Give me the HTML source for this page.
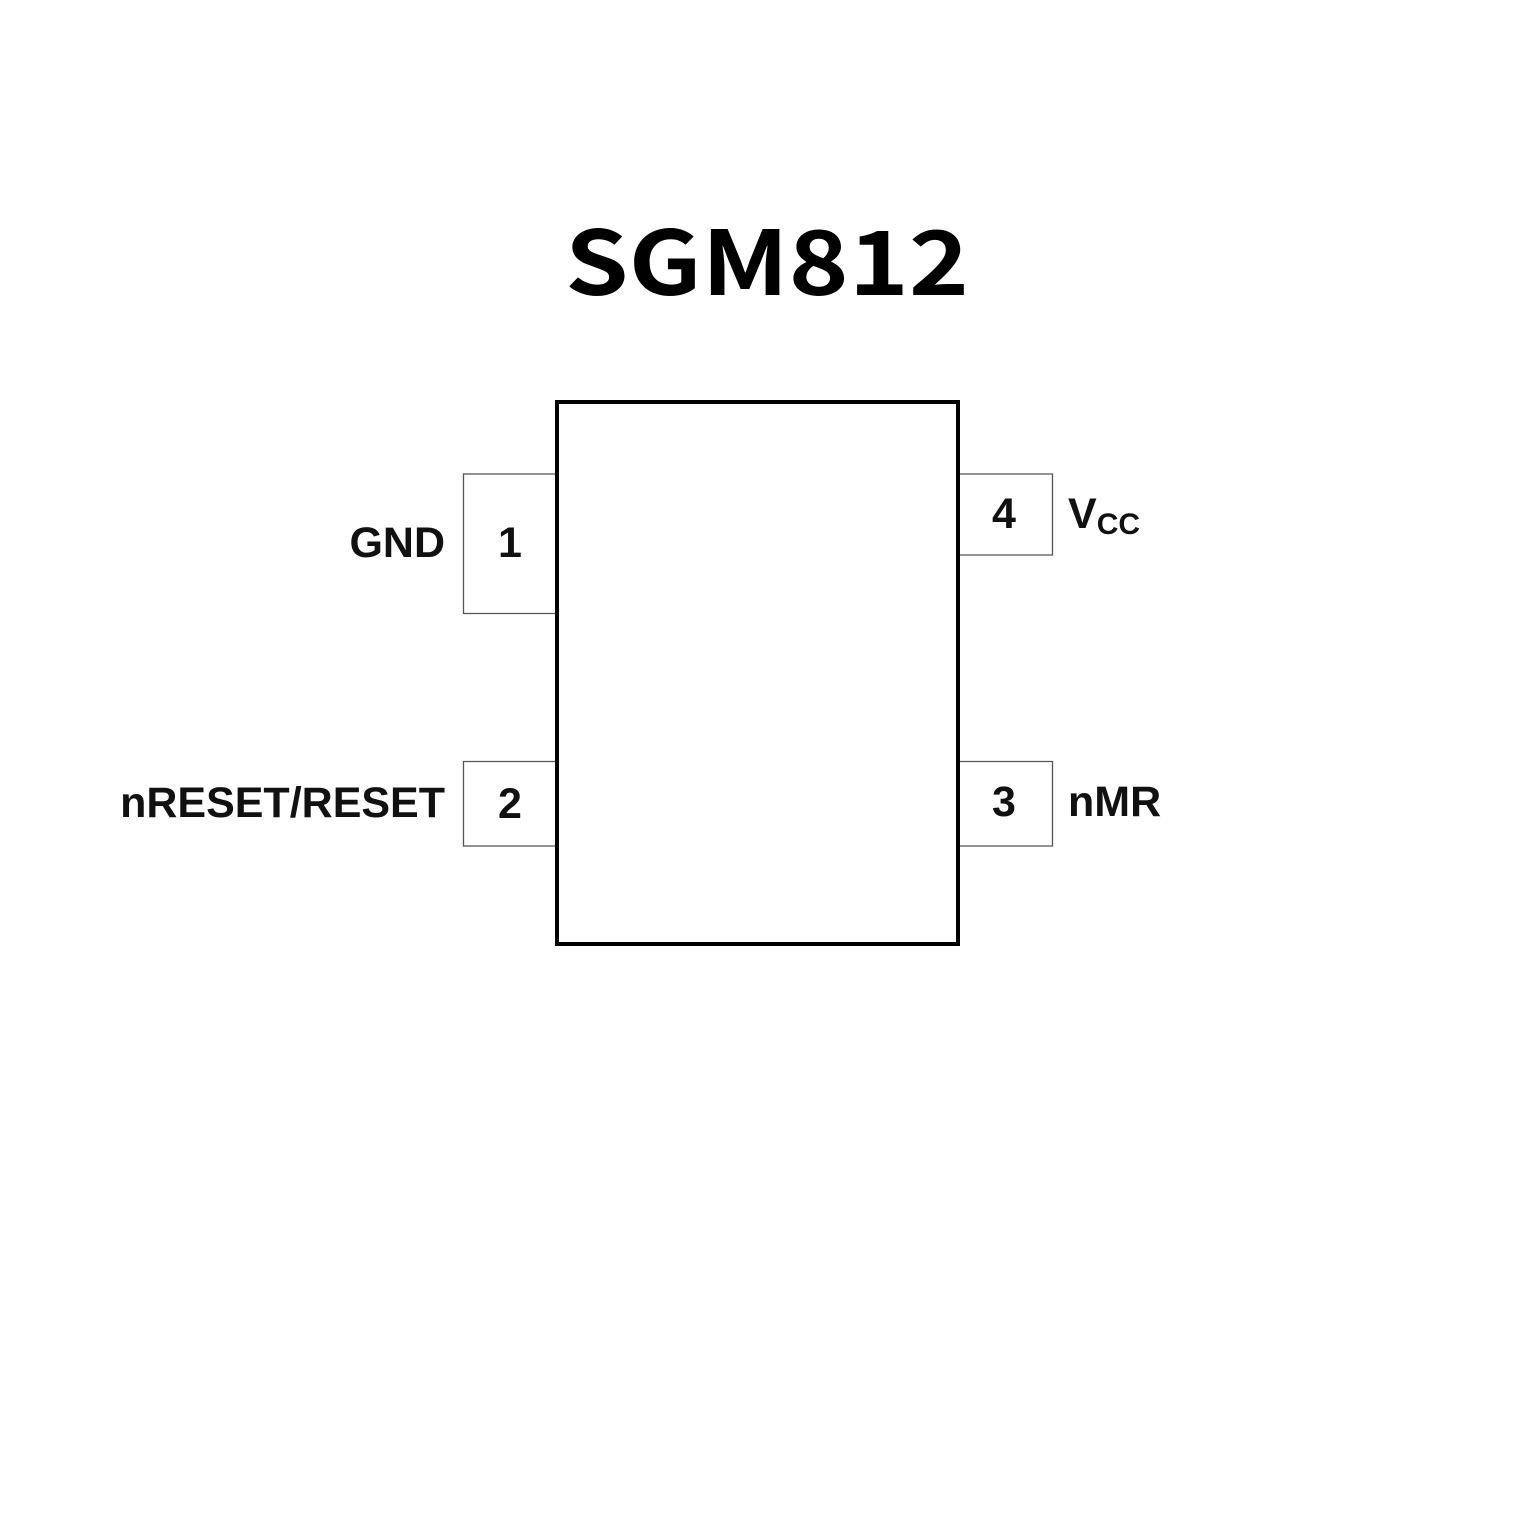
<!DOCTYPE html>
<html><head><meta charset="utf-8"><style>html,body{margin:0;padding:0;background:#fff}</style></head>
<body>
<svg width="1535" height="1535" xmlns="http://www.w3.org/2000/svg">
<rect width="1535" height="1535" fill="#fff"/>
<text x="565" y="295" textLength="404" lengthAdjust="spacingAndGlyphs" font-family="'Noto Sans CJK SC','DejaVu Sans',sans-serif" font-weight="bold" font-size="89" fill="#000">SGM812</text>
<rect x="557" y="402" width="401" height="542" fill="none" stroke="#000" stroke-width="4"/>
<g fill="none" stroke="#555" stroke-width="1.3">
<path d="M555 474 H463.5 V613.5 H555"/>
<path d="M555 761.5 H463.5 V846 H555"/>
<path d="M960 474 H1052.5 V555 H960"/>
<path d="M960 761.5 H1052.5 V846 H960"/>
</g>
<g font-family="'Liberation Sans',Arial,sans-serif" font-weight="bold" font-size="43" fill="#111">
<text x="445" y="557" text-anchor="end">GND</text>
<text x="510" y="557" text-anchor="middle">1</text>
<text x="445" y="817" text-anchor="end">nRESET/RESET</text>
<text x="510" y="818" text-anchor="middle">2</text>
<text x="1004" y="528" text-anchor="middle">4</text>
<text x="1068" y="528">V<tspan font-size="30" dy="6">CC</tspan></text>
<text x="1004" y="816" text-anchor="middle">3</text>
<text x="1068" y="816">nMR</text>
</g>
</svg>
</body></html>
